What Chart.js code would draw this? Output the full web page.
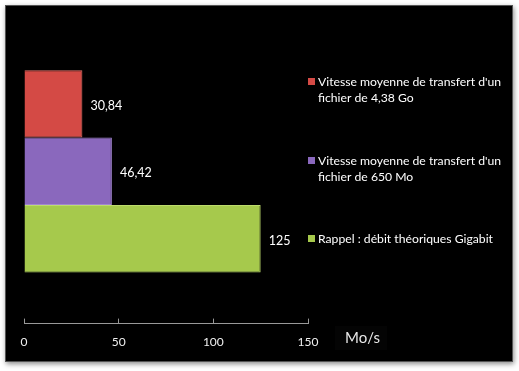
<!DOCTYPE html>
<html>
<head>
<meta charset="utf-8">
<script src="https://cdn.jsdelivr.net/npm/chart.js@4"></script>
<style>
  html, body { margin: 0; padding: 0; background: #fff; }
  #wrap { width: 519px; height: 371px; }
</style>
</head>
<body>
<div id="wrap"><canvas id="barchart" width="519" height="371"></canvas></div>
<script>
'use strict';

// Transfer speed chart

var categories = [''];
var seriesLabels = [
	['Vitesse moyenne de transfert d\'un', 'fichier de 4,38 Go'],
	['Vitesse moyenne de transfert d\'un', 'fichier de 650 Mo'],
	['Rappel : débit théoriques Gigabit']
];
var fichier438Go = [30.84];
var fichier650Mo = [46.42];
var gigabit = [125];
var xTicks = [0, 50, 100, 150];
var unitLabel = 'Mo/s';

var FONT = 'Lato, "Open Sans", sans-serif';

// black panel with a soft shadow behind the chart
var panel = {
	id: 'panel',
	beforeDraw: function (chart) {
		var c = chart.ctx;
		c.save();
		c.fillStyle = '#fff';
		c.fillRect(0, 0, chart.width, chart.height);
		c.shadowColor = 'rgba(0,0,0,.45)';
		c.shadowBlur = 5;
		c.shadowOffsetX = 1;
		c.shadowOffsetY = 2;
		c.fillStyle = '#000';
		c.fillRect(5, 5, 508, 357);
		c.restore();
		c.save();
		c.strokeStyle = '#555';
		c.lineWidth = 1;
		c.strokeRect(5.5, 5.5, 507, 356);
		c.restore();
	}
};

// value labels, legend and unit
var extras = {
	id: 'extras',
	afterDraw: function (chart) {
		var c = chart.ctx;
		c.save();
		c.font = '12.5px ' + FONT;
		c.fillStyle = '#fff';
		c.textBaseline = 'middle';
		chart.data.datasets.forEach(function (ds, i) {
			var bar = chart.getDatasetMeta(i).data[0];
			c.textAlign = 'left';
			c.fillText(String(ds.data[0]).replace('.', ','), bar.x + 8, bar.y + 2);
		});

		c.font = '12.2px ' + FONT;
		var legendY = [82, 161, 239];
		chart.data.datasets.forEach(function (ds, i) {
			c.fillStyle = ds.backgroundColor;
			c.fillRect(308, legendY[i] - 4, 7, 7);
			c.fillStyle = '#fff';
			c.textAlign = 'left';
			ds.label.forEach(function (line, j) {
				c.fillText(line, 318, legendY[i] + j * 16);
			});
		});

		c.fillStyle = '#040404';
		c.fillRect(335, 326, 52, 24);
		c.fillStyle = '#e8e8e8';
		c.font = '15px ' + FONT;
		c.textAlign = 'left';
		c.fillText(unitLabel, 345, 338);
		c.restore();
	}
};

var ctx = document.getElementById('barchart');

var barChart = new Chart(ctx, {
	type: 'bar',
	data: {
		labels: categories,
		datasets: [{
			label: seriesLabels[0],
			data: fichier438Go,
			backgroundColor: '#d44a45',
			borderColor: '#e0716b'
		}, {
			label: seriesLabels[1],
			data: fichier650Mo,
			backgroundColor: '#8a68bd',
			borderColor: '#a386d0'
		}, {
			label: seriesLabels[2],
			data: gigabit,
			backgroundColor: '#a6c94c',
			borderColor: '#bddb6c'
		}]
	},
	options: {
		indexAxis: 'y',
		responsive: false,
		animation: false,
		layout: { padding: { left: 24, right: 211, top: 19, bottom: 6 } },
		datasets: {
			bar: {
				borderWidth: 1,
				barPercentage: 1,
				categoryPercentage: 0.664
			}
		},
		plugins: {
			legend: { display: false },
			tooltip: { enabled: false }
		},
		scales: {
			y: { display: false },
			x: {
				min: 0,
				max: 150,
				afterBuildTicks: function (axis) {
					axis.ticks = xTicks.map(function (v) { return { value: v }; });
				},
				grid: {
					drawOnChartArea: false,
					color: '#999',
					tickLength: -5
				},
				border: { color: '#999' },
				ticks: {
					color: '#f0f0f0',
					padding: 16,
					maxRotation: 0,
					font: { family: FONT, size: 12 }
				}
			}
		}
	},
	plugins: [panel, extras]
});
</script>
</body>
</html>
